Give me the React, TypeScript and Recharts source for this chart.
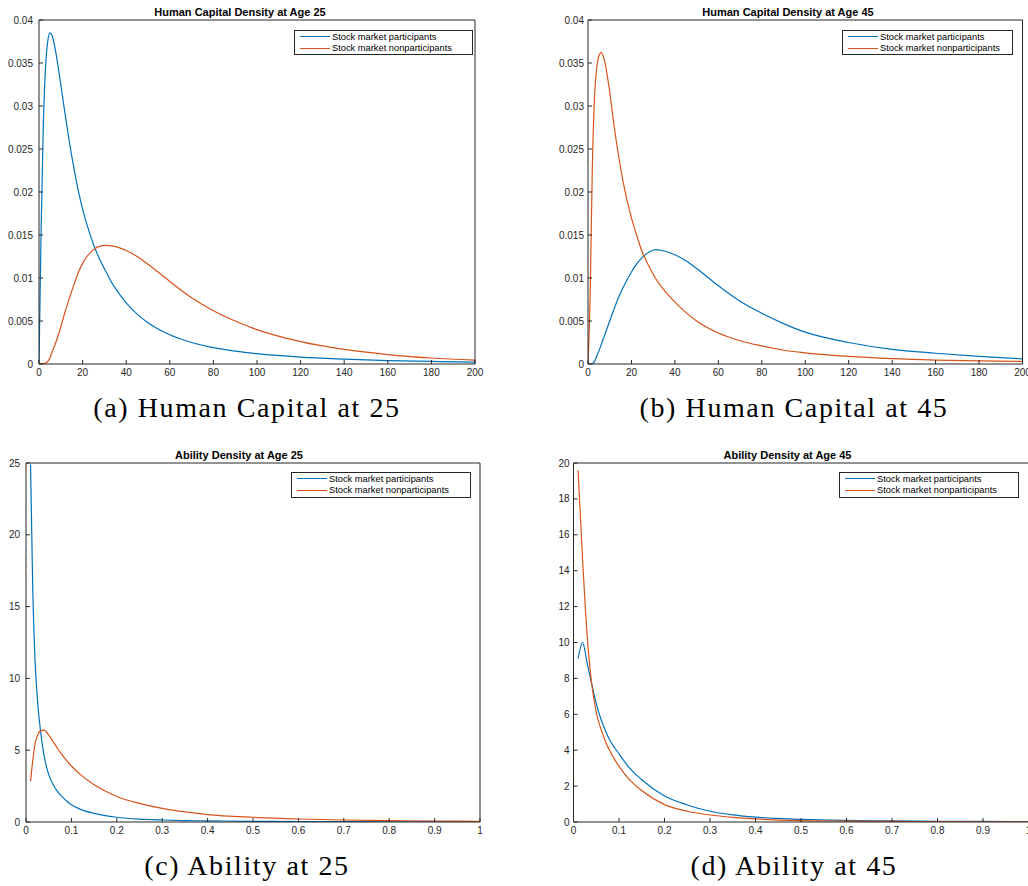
import React from 'react'
import { LineChart, Line, XAxis, YAxis, Legend } from 'recharts'

const BLUE = '#0072BD'
const ORANGE = '#D95319'
const AXIS = '#262626'
const SANS = '"Liberation Sans", Arial, sans-serif'
const SERIF = '"Liberation Serif", "Times New Roman", serif'

const seriesNames = ['Stock market participants', 'Stock market nonparticipants']

// human capital grid, shared by panels (a) and (b)
const hcX = [0, 1, 2, 3, 4, 5, 6, 7, 8, 10, 12, 14, 16, 18, 20, 22, 25, 28, 31, 34, 37, 40, 45, 50, 60, 70, 80, 90, 100, 120, 140, 160, 180, 200]

const hc25Participants = [0, 0.016, 0.028, 0.0345, 0.0375, 0.0385, 0.0382, 0.0372, 0.0358, 0.0325, 0.029, 0.0257, 0.0228, 0.0202, 0.018, 0.0162, 0.0139, 0.0121, 0.0106, 0.0092, 0.0081, 0.0071, 0.0058, 0.0048, 0.0034, 0.0025, 0.0019, 0.0015, 0.0012, 0.0008, 0.00057, 0.0004, 0.0003, 0.00022]
const hc25Nonparticipants = [0, 0.00002, 0.00005, 0.0001, 0.0003, 0.0007, 0.0014, 0.002, 0.0027, 0.0043, 0.0061, 0.0077, 0.0092, 0.0106, 0.0117, 0.0125, 0.0133, 0.0137, 0.0138, 0.0137, 0.0135, 0.0132, 0.0125, 0.0116, 0.0096, 0.0077, 0.0062, 0.005, 0.004, 0.0026, 0.0017, 0.0011, 0.0007, 0.00045]

const hc45Participants = [0, 0, 0.00005, 0.0003, 0.0009, 0.0015, 0.0022, 0.0029, 0.0036, 0.005, 0.0064, 0.0077, 0.0088, 0.0098, 0.0107, 0.0115, 0.0124, 0.013, 0.0133, 0.0132, 0.013, 0.0127, 0.012, 0.0111, 0.0091, 0.0073, 0.0059, 0.0047, 0.0037, 0.0025, 0.0017, 0.00125, 0.00088, 0.0006]
const hc45Nonparticipants = [0, 0.008, 0.023, 0.031, 0.0345, 0.0358, 0.0362, 0.0358, 0.0348, 0.0316, 0.0277, 0.0243, 0.0214, 0.019, 0.017, 0.0153, 0.013, 0.0114, 0.01, 0.0089, 0.008, 0.0072, 0.006, 0.005, 0.0036, 0.0027, 0.0021, 0.0016, 0.0013, 0.00088, 0.00062, 0.00046, 0.00036, 0.0003]

// ability grids
const ab25X = [0.01, 0.015, 0.02, 0.025, 0.03, 0.035, 0.04, 0.05, 0.06, 0.07, 0.08, 0.09, 0.1, 0.12, 0.15, 0.2, 0.25, 0.3, 0.35, 0.4, 0.5, 0.6, 0.7, 0.8, 0.9, 1]
const ab25Participants = [24.9, 16.0, 11.2, 8.6, 6.9, 5.6, 4.6, 3.3, 2.6, 2.1, 1.75, 1.45, 1.2, 0.88, 0.6, 0.33, 0.2, 0.14, 0.1, 0.08, 0.05, 0.035, 0.025, 0.018, 0.013, 0.01]
const ab25Nonparticipants = [2.85, 4.3, 5.45, 6.0, 6.3, 6.38, 6.4, 6.05, 5.6, 5.1, 4.65, 4.25, 3.9, 3.3, 2.6, 1.78, 1.3, 0.95, 0.7, 0.52, 0.33, 0.21, 0.14, 0.1, 0.07, 0.05]

const ab45X = [0.01, 0.02, 0.03, 0.04, 0.05, 0.06, 0.07, 0.08, 0.09, 0.1, 0.12, 0.15, 0.2, 0.25, 0.3, 0.35, 0.4, 0.5, 0.6, 0.7, 0.8, 0.9, 1]
const ab45Participants = [9.1, 10.0, 8.85, 7.7, 6.6, 5.75, 5.1, 4.55, 4.15, 3.8, 3.1, 2.35, 1.45, 0.95, 0.6, 0.4, 0.27, 0.15, 0.09, 0.06, 0.04, 0.03, 0.02]
const ab45Nonparticipants = [19.6, 14.6, 10.4, 7.7, 6.1, 5.2, 4.5, 3.95, 3.5, 3.1, 2.45, 1.75, 0.97, 0.6, 0.39, 0.26, 0.17, 0.08, 0.05, 0.03, 0.02, 0.015, 0.01]

// ticks
const hcTicksX = [0, 20, 40, 60, 80, 100, 120, 140, 160, 180, 200]
const hcTicksY = [0, 0.005, 0.01, 0.015, 0.02, 0.025, 0.03, 0.035, 0.04]
const abTicksX = [0, 0.1, 0.2, 0.3, 0.4, 0.5, 0.6, 0.7, 0.8, 0.9, 1]
const ab25TicksY = [0, 5, 10, 15, 20, 25]
const ab45TicksY = [0, 2, 4, 6, 8, 10, 12, 14, 16, 18, 20]

const LegendBox = (props: any) => {
  const { payload, boxWidth, boxHeight } = props
  const items = [...(payload || [])].sort(
    (a: any, b: any) => seriesNames.indexOf(a.value) - seriesNames.indexOf(b.value)
  )
  return (
    <div
      style={{
        width: boxWidth,
        height: boxHeight,
        boxSizing: 'border-box',
        border: `1px solid ${AXIS}`,
        background: '#fff',
        paddingLeft: 5,
        fontFamily: SANS,
        fontSize: 9.3,
        color: '#000',
      }}
    >
      {items.map((item: any) => (
        <div
          key={item.value}
          style={{ display: 'flex', alignItems: 'center', height: 11.5, whiteSpace: 'nowrap' }}
        >
          <span style={{ display: 'inline-block', width: 30, height: 1.2, background: item.color, marginRight: 2 }} />
          <span>{item.value}</span>
        </div>
      ))}
    </div>
  )
}

interface PanelProps {
  left: number
  top: number
  width: number
  height: number
  margin: { top: number; right: number; left: number; bottom: number }
  yAxisWidth: number
  labelGap: number
  x: number[]
  participants: number[]
  nonparticipants: number[]
  xTicks: number[]
  yTicks: number[]
  legend: { left: number; top: number; width: number; height: number }
  title: string
  titleCenter: number
  caption: string
  captionCenter: number
  captionTop: number
}

const Panel: React.FC<PanelProps> = ({
  left,
  top,
  width,
  height,
  margin,
  yAxisWidth,
  labelGap,
  x,
  participants,
  nonparticipants,
  xTicks,
  yTicks,
  legend,
  title,
  titleCenter,
  caption,
  captionCenter,
  captionTop,
}) => {
  const data = x.map((v, i) => ({
    x: v,
    participants: participants[i],
    nonparticipants: nonparticipants[i],
  }))
  const xDomain = [xTicks[0], xTicks[xTicks.length - 1]]
  const yDomain = [yTicks[0], yTicks[yTicks.length - 1]]

  return (
    <div style={{ position: 'absolute', left, top, width, height: height + 60 }}>
      <div
        style={{
          position: 'absolute',
          left: titleCenter - 150,
          top: 6,
          width: 300,
          textAlign: 'center',
          fontFamily: SANS,
          fontWeight: 'bold',
          fontSize: 11,
          lineHeight: '12px',
          color: '#000',
        }}
      >
        {title}
      </div>
      <LineChart width={width} height={height} data={data} margin={margin}>
        <XAxis
          dataKey="x"
          type="number"
          domain={xDomain}
          ticks={xTicks}
          interval={0}
          allowDataOverflow
          height={20}
          stroke={AXIS}
          tickSize={-4}
          tickMargin={9}
          tick={{ fill: AXIS, fontSize: 10, fontFamily: SANS }}
        />
        <XAxis
          xAxisId="top"
          orientation="top"
          dataKey="x"
          type="number"
          domain={xDomain}
          ticks={xTicks}
          interval={0}
          allowDataOverflow
          height={1}
          stroke={AXIS}
          tickSize={-4}
          tick={false}
        />
        <YAxis
          type="number"
          domain={yDomain}
          ticks={yTicks}
          interval={0}
          allowDataOverflow
          width={yAxisWidth}
          stroke={AXIS}
          tickSize={-4}
          tickMargin={labelGap + 4}
          tick={{ fill: AXIS, fontSize: 10, fontFamily: SANS }}
        />
        <YAxis
          yAxisId="right"
          orientation="right"
          dataKey="participants"
          type="number"
          domain={yDomain}
          ticks={yTicks}
          interval={0}
          allowDataOverflow
          width={1}
          stroke={AXIS}
          tickSize={-4}
          tick={false}
        />
        <Legend
          layout="horizontal"
          verticalAlign="middle"
          align="center"
          wrapperStyle={{ left: legend.left, top: legend.top, width: 'auto', height: 'auto' }}
          content={(p: any) => <LegendBox {...p} boxWidth={legend.width} boxHeight={legend.height} />}
        />
        <Line
          dataKey="participants"
          name={seriesNames[0]}
          type="monotone"
          stroke={BLUE}
          strokeWidth={1.2}
          dot={false}
          activeDot={false}
          isAnimationActive={false}
        />
        <Line
          dataKey="nonparticipants"
          name={seriesNames[1]}
          type="monotone"
          stroke={ORANGE}
          strokeWidth={1.2}
          dot={false}
          activeDot={false}
          isAnimationActive={false}
        />
      </LineChart>
      <div
        style={{
          position: 'absolute',
          left: captionCenter - 250,
          top: captionTop,
          width: 500,
          textAlign: 'center',
          fontFamily: SERIF,
          fontSize: 28,
          letterSpacing: 1.6,
          lineHeight: '30px',
          color: '#000',
          whiteSpace: 'nowrap',
        }}
      >
        {caption}
      </div>
    </div>
  )
}

export default function App() {
  return (
    <div
      style={{
        position: 'fixed',
        left: 0,
        top: 0,
        width: 1028,
        height: 886,
        overflow: 'hidden',
        background: '#fff',
      }}
    >
      <Panel
        left={0}
        top={0}
        width={485}
        height={384}
        margin={{ top: 19, right: 9, left: 4, bottom: 0 }}
        yAxisWidth={35}
        labelGap={6}
        x={hcX}
        participants={hc25Participants}
        nonparticipants={hc25Nonparticipants}
        xTicks={hcTicksX}
        yTicks={hcTicksY}
        legend={{ left: 294, top: 30, width: 179, height: 25 }}
        title="Human Capital Density at Age 25"
        titleCenter={240}
        caption="(a) Human Capital at 25"
        captionCenter={247}
        captionTop={393}
      />
      <Panel
        left={553}
        top={0}
        width={480}
        height={384}
        margin={{ top: 19, right: 9.5, left: 0, bottom: 0 }}
        yAxisWidth={35}
        labelGap={4}
        x={hcX}
        participants={hc45Participants}
        nonparticipants={hc45Nonparticipants}
        xTicks={hcTicksX}
        yTicks={hcTicksY}
        legend={{ left: 289, top: 30, width: 171, height: 25 }}
        title="Human Capital Density at Age 45"
        titleCenter={235}
        caption="(b) Human Capital at 45"
        captionCenter={241}
        captionTop={393}
      />
      <Panel
        left={0}
        top={443}
        width={490}
        height={399}
        margin={{ top: 19, right: 9, left: 4, bottom: 0 }}
        yAxisWidth={22}
        labelGap={6}
        x={ab25X}
        participants={ab25Participants}
        nonparticipants={ab25Nonparticipants}
        xTicks={abTicksX}
        yTicks={ab25TicksY}
        legend={{ left: 291, top: 29, width: 180, height: 26 }}
        title="Ability Density at Age 25"
        titleCenter={239}
        caption="(c) Ability at 25"
        captionCenter={247}
        captionTop={408}
      />
      <Panel
        left={549}
        top={443}
        width={489.5}
        height={399}
        margin={{ top: 19, right: 9, left: 2.5, bottom: 0 }}
        yAxisWidth={22}
        labelGap={4}
        x={ab45X}
        participants={ab45Participants}
        nonparticipants={ab45Nonparticipants}
        xTicks={abTicksX}
        yTicks={ab45TicksY}
        legend={{ left: 290, top: 29, width: 180, height: 26 }}
        title="Ability Density at Age 45"
        titleCenter={238.5}
        caption="(d) Ability at 45"
        captionCenter={245}
        captionTop={408}
      />
    </div>
  )
}
